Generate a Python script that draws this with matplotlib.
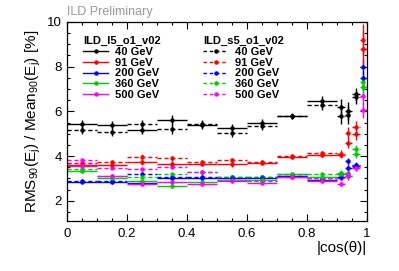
import numpy as np
import matplotlib
matplotlib.use("Agg")
import matplotlib.pyplot as plt
from matplotlib.lines import Line2D

plt.rcParams['font.family'] = ['Liberation Sans', 'DejaVu Sans']
plt.rcParams['mathtext.fontset'] = 'custom'
plt.rcParams['mathtext.rm'] = 'Liberation Sans'
plt.rcParams['mathtext.it'] = 'Liberation Sans'

# binning in |cos(theta)|
edges = [0.0, 0.1, 0.2, 0.3, 0.4, 0.5, 0.6, 0.7, 0.8, 0.9, 0.925, 0.95, 0.975, 1.0]
energies = ['40 GeV', '91 GeV', '200 GeV', '360 GeV', '500 GeV']
colors = ['black', 'red', 'blue', '#00cc00', 'magenta']

# RMS90/Mean90 [%], ILD_l5_o1_v02 (solid)
l5_40 = [5.42, 5.39, 5.15, 5.63, 5.39, 5.25, 5.50, 5.78, 6.45, 6.20, 6.00, 6.76, np.nan]
l5_91 = [3.60, 3.58, 3.74, 3.66, 3.66, 3.63, 3.67, 3.97, 4.04, 4.05, 4.59, 4.97, 8.79]
l5_200 = [2.86, 2.83, 2.80, 3.03, 3.03, 3.00, 3.00, 3.10, 2.95, 3.05, 3.48, 3.55, 7.47]
l5_360 = [3.33, 3.03, 2.88, 2.65, 2.83, 2.95, 2.95, 3.18, 3.05, 3.18, 3.10, 4.08, 7.09]
l5_500 = [3.55, 3.10, 2.76, 2.83, 2.73, 2.88, 2.78, 3.06, 2.88, 2.76, 3.10, 3.48, 6.04]

# ILD_s5_o1_v02 (dashed)
s5_40 = [5.18, 5.09, 5.45, 5.20, 5.45, 5.03, 5.33, 5.80, 6.30, 5.80, 5.85, 6.62, np.nan]
s5_91 = [3.68, 3.72, 3.97, 3.90, 3.73, 3.81, 3.73, 3.99, 4.12, 4.10, 5.04, 5.30, 9.20]
s5_200 = [2.90, 2.88, 3.21, 3.05, 3.06, 3.06, 3.06, 3.12, 3.00, 3.21, 3.78, 3.60, 8.00]
s5_360 = [3.40, 3.10, 3.05, 3.18, 3.28, 3.08, 3.08, 3.20, 3.18, 3.25, 3.25, 4.33, 7.32]
s5_500 = [3.81, 3.48, 3.40, 3.51, 3.28, 2.95, 2.90, 3.08, 3.02, 3.03, 3.20, 3.50, 6.67]

# statistical errors
err_40 = [0.18, 0.18, 0.18, 0.22, 0.16, 0.18, 0.18, 0.12, 0.25, 0.35, 0.40, 0.30, np.nan]
err_91 = [0.10, 0.10, 0.12, 0.10, 0.10, 0.10, 0.08, 0.08, 0.10, 0.15, 0.25, 0.25, 0.70]
err_hi = [0.07, 0.07, 0.08, 0.08, 0.08, 0.07, 0.07, 0.06, 0.08, 0.12, 0.15, 0.15, 0.35]

l5 = [l5_40, l5_91, l5_200, l5_360, l5_500]
s5 = [s5_40, s5_91, s5_200, s5_360, s5_500]
errs = [err_40, err_91, err_hi, err_hi, err_hi]

edges = np.array(edges)
xc = 0.5 * (edges[:-1] + edges[1:])
xw = 0.5 * (edges[1:] - edges[:-1])

fig = plt.figure(figsize=(3.99, 2.71), dpi=100)
ax = fig.add_axes([0.168, 0.185, 0.752, 0.734])

for vals, ls in [(s5, '--'), (l5, '-')]:
    for k in range(5):
        c = ax.errorbar(xc, vals[k], xerr=xw, yerr=errs[k], fmt='o', ms=2.2,
                        color=colors[k], lw=1.0, capsize=0)
        c[2][0].set_linestyle((0, (3, 2)) if ls == '--' else '-')

ax.set_xlim(0, 1)
ax.set_ylim(1.1, 10)
ax.set_xticks([0, 0.2, 0.4, 0.6, 0.8, 1.0])
ax.set_xticklabels(['0', '0.2', '0.4', '0.6', '0.8', '1'])
ax.set_xticks(np.arange(0, 1.0001, 0.05), minor=True)
ax.set_yticks([2, 4, 6, 8, 10])
ax.set_yticks(np.arange(1.5, 10.01, 0.5), minor=True)
ax.tick_params(which='both', direction='in', top=True, right=True, labelsize=9.5, width=0.8)
ax.tick_params(which='major', length=5)
ax.tick_params(which='minor', length=2.5)
ax.tick_params(axis='x', pad=5)
for s in ax.spines.values():
    s.set_linewidth(0.9)

ax.set_ylabel(r'RMS$_{90}$(E$_{j}$) / Mean$_{90}$(E$_{j}$) [%]', fontsize=11, labelpad=3)
ax.set_xlabel('|cos(θ)|', fontsize=11, loc='right', labelpad=1)

fig.text(0.168, 0.945, 'ILD Preliminary', color='#999999', fontsize=9)

def handles(ls):
    return [Line2D([], [], color=colors[k], ls=ls, lw=1.0, marker='o', ms=2.2) for k in range(5)]

leg_kw = dict(frameon=False, handlelength=2.2, handletextpad=0.6,
              labelspacing=0.06, alignment='left', borderaxespad=0,
              prop={'weight': 'bold', 'size': 8},
              title_fontproperties={'weight': 'bold', 'size': 8})
leg1 = ax.legend(handles('-'), energies, title='ILD_l5_o1_v02',
                 loc='upper left', bbox_to_anchor=(0.04, 0.95), **leg_kw)
ax.add_artist(leg1)
ax.legend(handles((0, (2.5, 2))), energies, title='ILD_s5_o1_v02',
          loc='upper left', bbox_to_anchor=(0.44, 0.95), **leg_kw)

fig.savefig('out.png', dpi=100)
